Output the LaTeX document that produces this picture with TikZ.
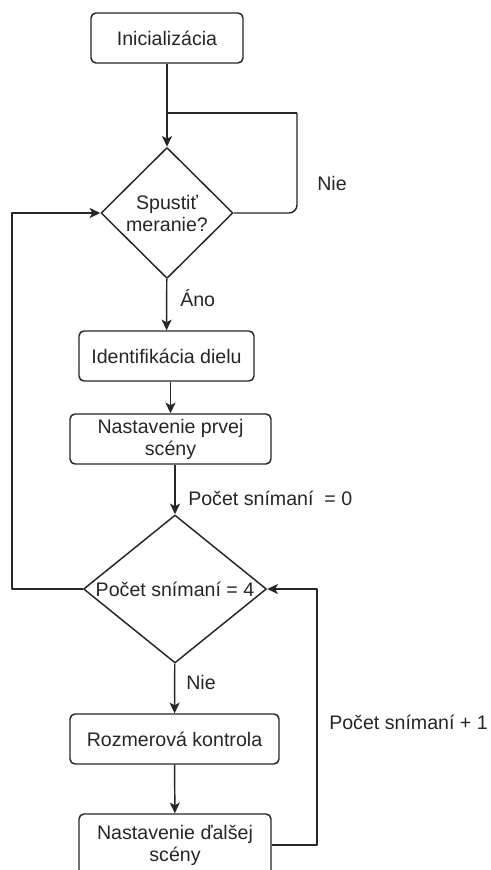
\documentclass[tikz,border=0pt]{standalone}
\usepackage{fontspec}
\setmainfont{Liberation Sans}
\usetikzlibrary{shapes.geometric,arrows.meta}
\begin{document}
\begin{tikzpicture}[x=0.75pt,y=-0.75pt,line join=round,color=black!85,
  font=\fontsize{14.7pt}{16.5pt}\selectfont,
  box/.style={draw,rounded corners=3.75pt,line width=1.1pt,inner sep=0pt,align=center},
  decision/.style={draw,diamond,line width=1.1pt,inner sep=0pt,align=center},
  wire/.style={line width=1.1pt},
  arr/.style={wire,-{Stealth[length=8pt,width=7.5pt,inset=2pt]}},
  lbl/.style={anchor=west,inner sep=0pt}]
  \useasboundingbox (0,0) rectangle (491,870);
  % main column
  \node[box,minimum width=114pt,minimum height=37.5pt] (init) at (167,38) {Inicializácia};
  \node[decision,minimum width=99pt,minimum height=98.25pt] (start) at (167,213) {Spustiť\\meranie?};
  \node[box,minimum width=131.25pt,minimum height=37.5pt] (ident) at (166.5,356) {Identifikácia dielu};
  \node[box,minimum width=150.75pt,minimum height=37.5pt] (first) at (170.5,439) {Nastavenie prvej\\scény};
  \node[decision,shape aspect=1.24,minimum width=137.25pt,minimum height=111pt] (count) at (175,589) {Počet snímaní = 4};
  \node[box,minimum width=156.75pt,minimum height=37.5pt] (dims) at (174.5,739) {Rozmerová kontrola};
  \node[box,minimum width=144pt,minimum height=46.5pt] (next) at (175,845) {Nastavenie ďalšej\\scény};
  % bend points
  \coordinate (nieJoin) at (167,113);
  \coordinate (nieTop) at (297,113);
  \coordinate (loopL) at (12,400);
  \coordinate (loopR) at (317,720);
  % connectors
  \draw[arr] (init) -- (start);
  \draw[wire,rounded corners=6pt] (start.east) -| (nieTop);
  \draw[wire] (nieTop) -- (nieJoin);
  \draw[arr] (start) -- (ident);
  \draw[arr] (first.north |- ident.south) -- (first.north);
  \draw[arr] (count.north |- first.south) -- (count.north);
  \draw[arr] (count.west) -| (loopL) |- (start.west);
  \draw[arr] (count) -- (dims);
  \draw[arr] (dims) -- (next);
  \draw[arr] (next.east) -| (loopR) |- (count.east);
  % labels
  \node[lbl] (nieA) at (317,183) {Nie};
  \node[lbl] (ano) at (180,298) {Áno};
  \node[lbl] (zero) at (188,498) {Počet snímaní~ = 0};
  \node[lbl] (nieB) at (186,682) {Nie};
  \node[lbl] (plus) at (329,722) {Počet snímaní + 1};
\end{tikzpicture}
\end{document}
